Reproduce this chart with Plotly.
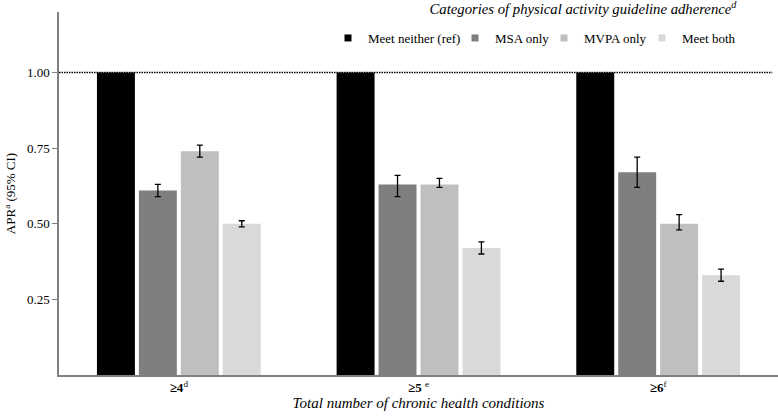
import plotly.graph_objects as go

categories = ["≥4", "≥5", "≥6"]
tick_labels = ["<b>≥4</b><sup>d</sup>", "<b>≥5</b> <sup>e</sup>", "<b>≥6</b><sup>f</sup>"]

series_names = ["Meet neither (ref)", "MSA only", "MVPA only", "Meet both"]
meet_neither = [1.00, 1.00, 1.00]
msa_only = [0.61, 0.63, 0.67]
msa_lo = [0.59, 0.59, 0.62]
msa_hi = [0.63, 0.66, 0.72]
mvpa_only = [0.74, 0.63, 0.50]
mvpa_lo = [0.72, 0.62, 0.48]
mvpa_hi = [0.76, 0.65, 0.53]
meet_both = [0.50, 0.42, 0.33]
both_lo = [0.49, 0.40, 0.31]
both_hi = [0.51, 0.44, 0.35]

colors = ["#000000", "#7f7f7f", "#bfbfbf", "#d9d9d9"]
legend_ids = ["legend", "legend2", "legend3", "legend4"]

font_family = "Liberation Serif"

fig = go.Figure()

def add(i, vals, lo=None, hi=None):
    err = None
    if lo is not None:
        err = dict(
            type="data", symmetric=False,
            array=[h - v for h, v in zip(hi, vals)],
            arrayminus=[v - l for v, l in zip(vals, lo)],
            color="#000000", thickness=1.3, width=3,
        )
    fig.add_trace(go.Bar(
        x=categories, y=vals, name=series_names[i],
        marker=dict(color=colors[i], line=dict(width=0)),
        error_y=err, showlegend=False,
    ))
    # legend entry (small square marker)
    fig.add_trace(go.Scatter(
        x=[None], y=[None], mode="markers", name=series_names[i],
        marker=dict(symbol="square", size=7, color=colors[i]),
        showlegend=True, legend=legend_ids[i],
    ))

add(0, meet_neither)
add(1, msa_only, msa_lo, msa_hi)
add(2, mvpa_only, mvpa_lo, mvpa_hi)
add(3, meet_both, both_lo, both_hi)

fig.add_shape(type="line", xref="paper", yref="y", x0=0, x1=0.992, y0=1.0, y1=1.0,
              line=dict(color="#000000", width=1.5, dash="1.5px,1px"), layer="below")

plot_left, plot_w = 59, 719
text_starts = [368, 495, 584, 682]
leg_common = dict(orientation="h", yanchor="middle", y=(375 - 38) / 363.0,
                  xanchor="left", font=dict(size=13, family=font_family),
                  bgcolor="rgba(0,0,0,0)", borderwidth=0)
legends = {}
for lid, ts in zip(legend_ids, text_starts):
    legends[lid] = dict(leg_common, x=(ts - 40 - plot_left) / plot_w)

fig.update_layout(
    width=778, height=417,
    margin=dict(l=59, r=0, t=12, b=42),
    paper_bgcolor="white", plot_bgcolor="white",
    font=dict(family=font_family, size=13, color="#000000"),
    barmode="group", bargap=0.3, bargroupgap=0.095,
    showlegend=True,
    title=dict(text="<i>Categories of physical activity guideline adherence<sup>d</sup></i>",
               x=(583 - plot_left) / plot_w, xref="paper", xanchor="center",
               y=1 - 9 / 417, yref="container", yanchor="middle",
               font=dict(size=14.7, family=font_family)),
    xaxis=dict(
        tickmode="array", tickvals=categories, ticktext=tick_labels,
        showline=True, linecolor="#7f7f7f", linewidth=1.5, ticks="",
        tickfont=dict(size=13), automargin=False,
        title=dict(text="<i>Total number of chronic health conditions</i>", standoff=2,
                   font=dict(size=15)),
    ),
    yaxis=dict(
        range=[0, 1.2], tickvals=[0.25, 0.5, 0.75, 1.0], tickformat=".2f",
        showline=True, linecolor="#7f7f7f", linewidth=1.5, ticks="outside",
        ticklen=5, tickcolor="#7f7f7f", showgrid=False, zeroline=False,
        tickfont=dict(size=13), automargin=False,
        title=dict(text="APR<sup>a</sup> (95% CI)", standoff=8, font=dict(size=13)),
    ),
    **legends,
)

fig.write_html("out.html", config={"displayModeBar": False},
               post_script="document.body.style.margin='0';")
